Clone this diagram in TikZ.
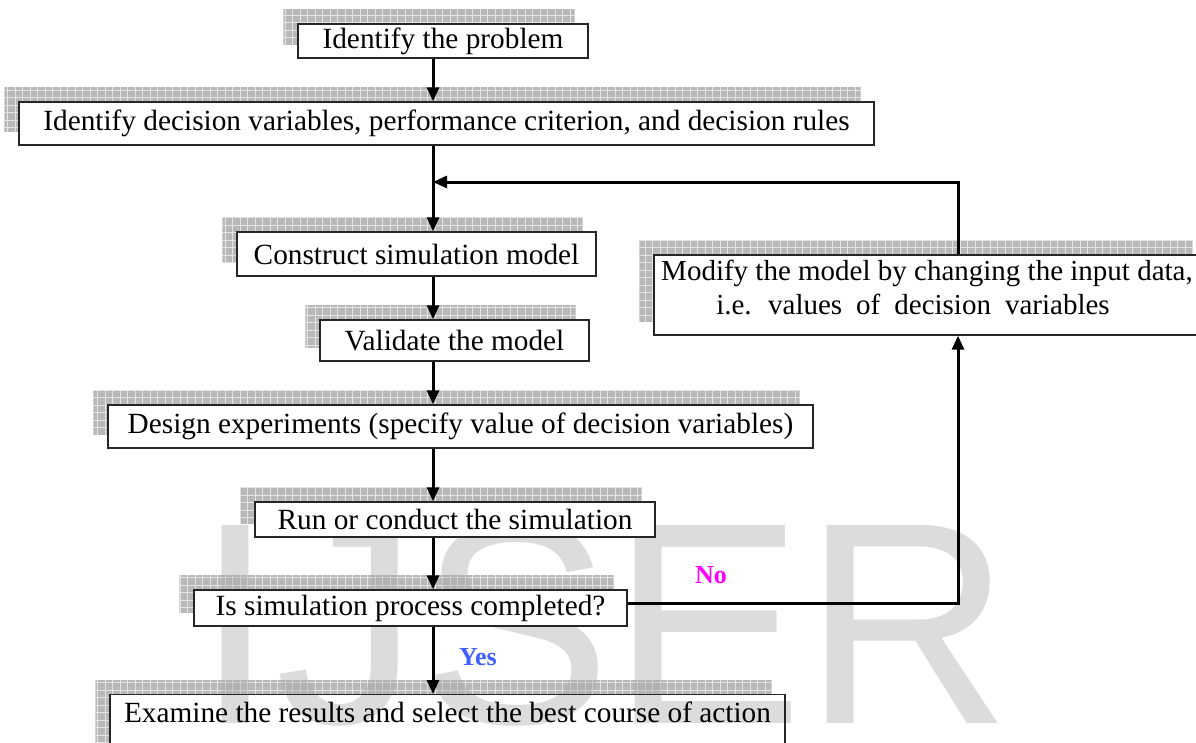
\documentclass[tikz,border=0pt]{standalone}
\usepackage{fontspec}
\setmainfont{Liberation Serif}
\newfontfamily\wmfont{Liberation Sans}
\usetikzlibrary{arrows.meta}
\pgfdeclarelayer{shade}
\pgfdeclarelayer{boxfill}
\pgfdeclarelayer{wm}
\pgfsetlayers{shade,boxfill,wm,main}
\definecolor{wmgray}{RGB}{168,168,168}
\definecolor{shgray}{RGB}{172,172,172}
\definecolor{shline}{RGB}{228,228,228}
\definecolor{yesblue}{RGB}{64,96,255}
\definecolor{nomag}{RGB}{255,0,255}
\newcommand\gridshadow[1]{%
  \begin{pgfonlayer}{shade}
  \begin{scope}
  \clip ([shift={(-14pt,14pt)}]#1.south west) rectangle ([shift={(-14pt,14pt)}]#1.north east);
  \fill[shgray, opacity=0.85] ([shift={(-14pt,14pt)}]#1.south west) rectangle ([shift={(-14pt,14pt)}]#1.north east);
  \draw[shline, line width=0.8pt] (0pt,-770pt) grid[step=7.5pt] (1210pt,0pt);
  \end{scope}
  \end{pgfonlayer}}
\tikzset{
  box/.style={draw=black!85, line width=1.4pt, fill=white, inner sep=0pt, align=center,
    font=\fontsize{29.3}{34}\selectfont},
  arr/.style={line width=3pt, -{Triangle[length=14pt,width=12pt]}},
  lbl/.style={font=\fontsize{26}{30}\selectfont\bfseries, inner sep=0pt}
}
\begin{document}
\begin{tikzpicture}[x=1pt,y=-1pt]
\useasboundingbox (0,0) rectangle (1196,742);
\clip (0,0) rectangle (1196,742);
\begin{pgfonlayer}{wm}
\node[anchor=base west, inner sep=0pt, text=wmgray, text opacity=0.4, font=\wmfont\fontsize{288}{288}\selectfont] (wm) at (195,723) {IJSER};
\end{pgfonlayer}
\node[box, minimum width=290pt, minimum height=34pt] (b1) at (443,41) {Identify the problem};
\node[box, minimum width=855pt, minimum height=43pt] (b2) at (446.5,123.5) {Identify decision variables, performance criterion, and decision rules};
\node[box, minimum width=359pt, minimum height=44pt] (b3) at (416.5,254) {Construct simulation model};
\node[box, minimum width=269pt, minimum height=41pt] (b4) at (454.5,340.5) {Validate the model};
\node[box, minimum width=705pt, minimum height=43pt] (b5) at (460.5,426.5) {Design experiments (specify value of decision variables)};
\node[box, minimum width=400pt, minimum height=35pt] (b6) at (455,519.5) {Run or conduct the simulation};
\node[box, minimum width=433pt, minimum height=36pt] (b7) at (410.5,608) {Is simulation process completed?};
\node[box, fill=none, anchor=north, minimum width=675pt, text height=28pt, text depth=40pt] (b8) at (447.5,694) {Examine the results and select the best course of action};
\node[box, minimum width=552pt, minimum height=80pt, font=\fontsize{29}{34}\selectfont] (b9) at (930,295) {Modify the model by changing the input data,\hspace*{6pt}\\ {\spaceskip=14pt i.e. values of decision variables}\hspace*{34pt}\rule[-16pt]{0pt}{1pt}};
\begin{pgfonlayer}{boxfill}
\fill[white] (b8.south west) rectangle (b8.north east);
\end{pgfonlayer}
\foreach \n in {b1,b2,b3,b4,b5,b6,b7,b8,b9} {\gridshadow{\n}}
\coordinate (ax) at (433,0);
\coordinate (fb) at (958,182);
\coordinate (ny) at (0,603);
\draw[arr] (b1.south -| ax) -- (b2.north -| ax);
\draw[arr] (b2.south -| ax) -- (b3.north -| ax);
\draw[arr] (b3.south -| ax) -- (b4.north -| ax);
\draw[arr] (b4.south -| ax) -- (b5.north -| ax);
\draw[arr] (b5.south -| ax) -- (b6.north -| ax);
\draw[arr] (b6.south -| ax) -- (b7.north -| ax);
\draw[arr] (b7.south -| ax) -- (b8.north -| ax);
\draw[arr] (b9.north -| fb) -- (fb) -- (fb -| ax);
\draw[arr] (b7.east |- ny) -- (ny -| fb) -- (b9.south -| fb);
\node[lbl, text=nomag] (no) at (711,575) {No};
\node[lbl, text=yesblue] (yes) at (478,657) {Yes};
\end{tikzpicture}
\end{document}
